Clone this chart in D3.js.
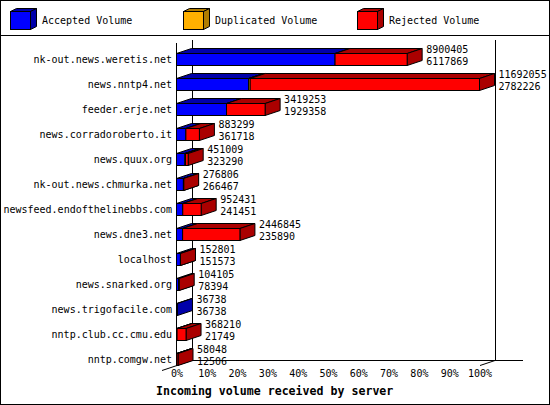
<!DOCTYPE html>
<html>
<head>
<meta charset="utf-8">
<script src="https://cdn.jsdelivr.net/npm/d3@7"></script>
<style>
  body { margin: 0; background: #fff; }
  svg { display: block; }
  text { font-family: "DejaVu Sans Mono", "Liberation Mono", monospace; }
</style>
</head>
<body>
<div id="chart"></div>
<script>
// hosts, top to bottom
const hosts = [
  'nk-out.news.weretis.net', 'news.nntp4.net', 'feeder.erje.net',
  'news.corradoroberto.it', 'news.quux.org', 'nk-out.news.chmurka.net',
  'newsfeed.endofthelinebbs.com', 'news.dne3.net', 'localhost',
  'news.snarked.org', 'news.trigofacile.com', 'nntp.club.cc.cmu.edu',
  'nntp.comgw.net'
];
// labels printed at the bar end (offered / accepted)
const offered  = [8900405, 11692055, 3419253, 883299, 451009, 276806, 952431, 2446845, 152801, 104105, 36738, 368210, 58048];
const accepted = [6117869, 2782226, 1929358, 361718, 323290, 266467, 241451, 235890, 151573, 78394, 36738, 21749, 12506];
// stacked segments
const duplicated = [0, 60000, 0, 0, 25000, 0, 0, 0, 0, 0, 0, 0, 0];
const rejected   = [2782536, 8849829, 1489895, 521581, 102719, 10339, 710980, 2210955, 1228, 25711, 0, 346461, 45542];

const seriesNames = ['Accepted Volume', 'Duplicated Volume', 'Rejected Volume'];
const frontColors = ['#0000ff', '#ffb000', '#ff0000'];
const darkColors  = ['#0000aa', '#b07c00', '#aa0000'];

const W = 550, H = 405;
const DX = 15, DY = -5;   // 3d depth offset
const svg = d3.select('#chart').append('svg').attr('width', W).attr('height', H);

// frame + legend separator
svg.append('rect').attr('x', 0.5).attr('y', 0.5).attr('width', W - 1).attr('height', H - 1)
  .attr('fill', '#fff').attr('stroke', '#000');
svg.append('line').attr('x1', 0).attr('x2', W).attr('y1', 35.5).attr('y2', 35.5).attr('stroke', '#000');

// legend
const legX = [10, 183, 357];
seriesNames.forEach((name, i) => {
  const g = svg.append('g').attr('transform', `translate(${legX[i] + 0.5},11.5)`);
  const w = 20, h = 18, dx = 6, dy = -3;
  g.append('polygon').attr('points', [[0,0],[dx,dy],[w+dx,dy],[w,0]].join(' '))
    .attr('fill', darkColors[i]).attr('stroke', '#000');
  g.append('polygon').attr('points', [[w,0],[w+dx,dy],[w+dx,h+dy],[w,h]].join(' '))
    .attr('fill', darkColors[i]).attr('stroke', '#000');
  g.append('rect').attr('width', w).attr('height', h).attr('fill', frontColors[i]).attr('stroke', '#000');
  svg.append('text').attr('x', legX[i] + 32).attr('y', 24).attr('font-size', 10).text(name);
});

// scales
const maxTotal = d3.max(offered);
const x = d3.scaleLinear().domain([0, maxTotal]).range([177, 480]);
const pct = d3.scaleLinear().domain([0, 1]).range([177, 480]);
const y = d3.scalePoint().domain(hosts).range([59, 359]);

// walls / floor
const gl = svg.append('g').attr('stroke', '#000').attr('shape-rendering', 'crispEdges');
gl.append('line').attr('x1', 192.5).attr('x2', 192.5).attr('y1', 40).attr('y2', 361);
gl.append('line').attr('x1', 495.5).attr('x2', 495.5).attr('y1', 40).attr('y2', 361);
gl.append('line').attr('x1', 192).attr('x2', 523).attr('y1', 360.5).attr('y2', 360.5);
gl.append('line').attr('x1', 176.5).attr('x2', 176.5).attr('y1', 43).attr('y2', 366);
svg.append('line').attr('x1', 162).attr('y1', 370.5).attr('x2', 177).attr('y2', 365.5).attr('stroke', '#000');
svg.append('line').attr('x1', 480).attr('y1', 365.5).attr('x2', 495).attr('y2', 360.5).attr('stroke', '#000');

// bars
const segs = [accepted, duplicated, rejected];
const barG = svg.append('g').attr('stroke', '#000').attr('stroke-linejoin', 'miter');
hosts.forEach((h, r) => {
  const c = y(h);
  const yt = c - 6 + 0.5, yb = c + 6 + 0.5;
  let acc = 0;
  segs.forEach((arr, s) => {
    const v = arr[r];
    if (!v) return;
    const x0 = x(acc) - 0.5, x1 = x(acc + v) - 0.5;
    acc += v;
    barG.append('polygon')
      .attr('points', [[x0,yt],[x0+DX,yt+DY],[x1+DX,yt+DY],[x1,yt]].join(' '))
      .attr('fill', darkColors[s]);
    barG.append('polygon')
      .attr('points', [[x1,yt],[x1+DX,yt+DY],[x1+DX,yb+DY],[x1,yb]].join(' '))
      .attr('fill', darkColors[s]);
    barG.append('rect').attr('x', x0).attr('y', yt).attr('width', Math.max(0, x1 - x0)).attr('height', yb - yt)
      .attr('fill', frontColors[s]);
  });
  const tx = x(offered[r]) + DX + 3.5;
  svg.append('text').attr('x', tx).attr('y', c - 6).attr('font-size', 10).text(offered[r]);
  svg.append('text').attr('x', tx).attr('y', c + 5.5).attr('font-size', 10).text(accepted[r]);
  svg.append('text').attr('x', 172).attr('y', c + 3.5).attr('font-size', 10)
    .attr('text-anchor', 'end').text(h);
});

// x tick labels
pct.ticks(10).forEach(t => {
  svg.append('text').attr('x', pct(t)).attr('y', 377).attr('font-size', 10)
    .attr('text-anchor', 'middle').text(d3.format('.0%')(t));
});

// axis title
svg.append('text').attr('x', 156).attr('y', 395).attr('font-size', 11.6).attr('font-weight', 'bold')
  .text('Incoming volume received by server');
</script>
</body>
</html>
